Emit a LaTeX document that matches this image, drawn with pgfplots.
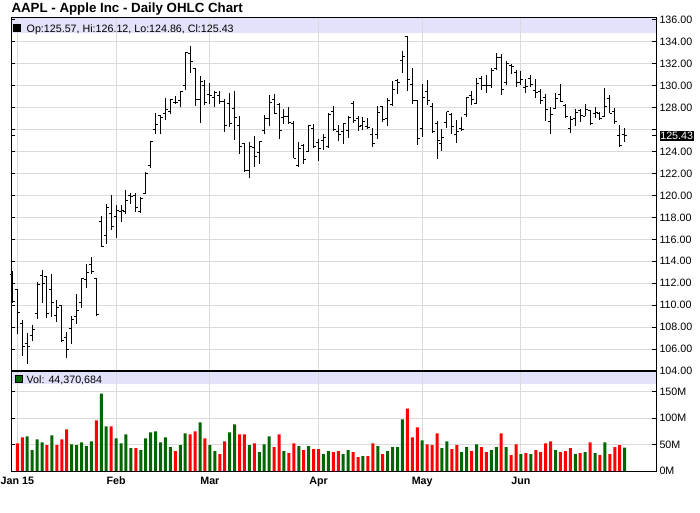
\documentclass[border=0pt]{standalone}
\usepackage{pgfplots}
\pgfplotsset{compat=1.18}
\usepackage{pgfplotstable}
\usepackage{fontspec}
\setmainfont{Liberation Sans}
\definecolor{upgreen}{RGB}{0,102,0}
\definecolor{dnred}{RGB}{255,0,0}
\definecolor{bandcol}{RGB}{226,226,250}
\definecolor{gridgray}{RGB}{218,218,218}
\setlength{\fboxsep}{0.8pt}
\pgfdeclareplotmark{otick}{\pgfpathmoveto{\pgfqpoint{-2.5pt}{0pt}}\pgfpathlineto{\pgfqpoint{0.3pt}{0pt}}\pgfusepathqstroke}
\pgfdeclareplotmark{ctick}{\pgfpathmoveto{\pgfqpoint{-0.3pt}{0pt}}\pgfpathlineto{\pgfqpoint{2.5pt}{0pt}}\pgfusepathqstroke}
\newcommand{\smallfont}{\fontsize{10.7}{12}\selectfont}

\pgfplotstableread{
i o h l c
0 112.82 113.13 110.21 110.38
1 111.39 111.44 107.35 109.33
2 108.29 108.65 105.41 106.25
3 106.54 107.43 104.63 106.26
4 107.20 108.20 106.70 107.75
5 109.23 112.15 108.70 111.89
6 112.67 113.25 110.21 112.01
7 112.60 112.63 108.80 109.25
8 111.43 112.80 108.91 110.22
9 109.04 110.49 108.50 109.80
10 110.00 110.06 106.66 106.82
11 107.03 107.58 105.20 105.99
12 107.84 108.97 106.50 108.72
13 108.95 111.06 108.27 109.55
14 110.26 112.47 109.72 112.40
15 112.30 113.75 111.53 112.98
16 113.74 114.36 112.80 113.10
17 112.42 112.48 109.03 109.14
18 117.63 118.12 115.31 115.31
19 116.32 119.19 115.56 118.90
20 118.40 120.00 116.85 117.16
21 118.05 119.17 116.08 118.63
22 118.50 119.09 117.61 118.65
23 118.50 120.51 118.31 119.56
24 120.02 120.23 119.25 119.94
25 120.02 120.25 118.45 118.93
26 118.55 119.84 118.43 119.72
27 120.17 122.15 120.16 122.02
28 122.77 124.92 122.50 124.88
29 126.06 127.48 125.57 126.46
30 127.28 127.28 125.65 127.08
31 127.49 128.88 126.92 127.83
32 127.63 128.78 127.45 128.72
33 128.48 129.03 128.33 128.45
34 128.62 129.50 128.05 129.50
35 130.02 133.00 129.66 133.00
36 132.94 133.60 131.17 132.17
37 131.56 131.60 128.15 128.79
38 128.79 130.87 126.61 130.42
39 130.00 130.57 128.24 128.46
40 129.25 130.28 128.30 129.09
41 128.96 129.52 128.09 129.36
42 129.10 129.56 128.32 128.54
43 128.58 128.75 125.76 126.41
44 128.40 129.37 126.26 126.60
45 127.96 129.57 125.06 127.14
46 126.41 127.22 123.80 124.51
47 124.75 124.77 122.11 122.24
48 122.31 124.90 121.63 124.45
49 124.40 125.40 122.58 123.59
50 123.88 124.95 122.87 124.95
51 125.90 127.32 125.65 127.04
52 127.00 129.16 126.37 128.47
53 128.75 129.25 127.40 127.50
54 128.25 128.40 125.16 125.90
55 127.12 127.85 126.52 127.21
56 127.23 128.04 126.56 126.69
57 126.54 126.82 123.38 123.38
58 122.76 124.88 122.60 124.24
59 124.57 124.70 122.91 123.25
60 124.05 126.40 124.00 126.37
61 126.09 126.49 124.36 124.43
62 124.82 125.12 123.10 124.25
63 125.03 125.56 124.19 125.32
64 124.47 127.51 124.33 127.35
65 127.64 128.12 125.98 126.01
66 125.85 126.40 124.97 125.60
67 125.85 126.58 124.66 126.56
68 125.95 127.21 125.26 127.10
69 128.37 128.57 126.61 126.85
70 127.00 127.29 125.91 126.30
71 126.41 127.13 126.01 126.78
72 126.28 127.10 126.11 126.17
73 125.55 126.14 124.46 124.75
74 125.57 128.12 125.17 127.60
75 128.10 128.20 126.67 126.91
76 126.99 128.87 126.32 128.62
77 128.30 130.42 128.14 129.67
78 130.49 130.63 129.23 130.28
79 132.31 133.13 131.15 132.65
80 134.46 134.54 129.57 130.56
81 130.16 131.59 128.30 128.64
82 128.64 128.64 124.58 125.15
83 126.10 130.13 125.30 128.95
84 129.50 130.57 128.26 128.70
85 128.15 128.45 125.78 125.80
86 126.56 126.75 123.36 125.01
87 124.77 126.08 124.02 125.26
88 126.68 127.62 126.11 127.62
89 127.39 127.56 125.63 126.32
90 125.60 126.88 124.82 125.87
91 126.15 127.19 125.87 126.01
92 127.41 128.95 127.16 128.95
93 129.07 129.49 128.21 128.77
94 128.38 130.72 128.36 130.19
95 130.69 130.88 129.64 130.07
96 130.00 130.98 129.34 130.06
97 130.07 131.63 129.83 131.39
98 131.60 132.97 131.40 132.54
99 132.60 132.91 129.12 129.62
100 130.34 132.26 130.05 132.04
101 131.86 131.95 131.10 131.78
102 131.23 131.45 129.90 130.28
103 130.28 131.39 130.05 130.54
104 129.86 130.66 129.32 129.96
105 130.66 130.94 129.90 130.12
106 129.58 130.58 128.91 129.36
107 129.50 129.69 128.36 128.65
108 128.90 129.21 126.83 127.80
109 126.70 128.08 125.62 127.42
110 127.92 129.34 127.85 128.88
111 129.18 130.18 128.48 128.59
112 128.19 128.33 127.11 127.17
113 126.10 127.24 125.71 126.92
114 127.03 127.85 126.37 127.60
115 127.72 127.88 126.74 127.30
116 127.23 128.31 127.22 127.88
117 127.71 127.82 126.40 126.60
118 127.49 128.06 127.08 127.61
119 127.48 127.61 126.88 127.03
120 127.21 129.80 127.12 128.11
121 128.86 129.20 127.50 127.50
122 127.67 127.99 126.51 126.75
123 125.46 126.47 124.48 124.53
124 125.57 126.12 124.86 125.43
}\ohlc

\pgfplotstableread{
i v u
1 52.5 0
2 63.75 0
3 65.6 1
4 39.4 1
5 60 1
6 54.4 1
7 48.75 0
8 67.5 1
9 48.75 0
10 60 0
11 78.75 0
12 50.6 1
13 48.75 1
14 54.4 1
15 46.9 1
16 56.25 1
17 95.6 0
18 146.25 1
19 84.4 1
20 84.4 0
21 61.9 1
22 52.5 1
23 69.4 1
24 43.1 1
25 43.1 0
26 39.4 1
27 61.9 1
28 73.1 1
29 75 1
30 54.4 1
31 63.75 1
32 45 1
33 37.5 0
34 48.75 1
35 71.25 1
36 69.4 0
37 75 0
38 91.9 1
39 61.9 0
40 48.75 1
41 37.5 1
42 31.9 0
43 56.25 0
44 73.1 1
45 88.1 1
46 69.4 0
47 69.4 0
48 48.75 1
49 52.5 0
50 35.6 1
51 50.6 1
52 65.6 1
53 45 0
54 69.4 0
55 37.5 1
56 33.75 0
57 52.5 0
58 46.9 1
59 39.4 0
60 46.9 1
61 41.25 0
62 41.25 0
63 31.9 1
64 37.5 1
65 35.6 0
66 37.5 0
67 31.9 1
68 39.4 1
69 35.6 0
70 26.25 0
71 28.1 1
72 28.1 0
73 52.5 0
74 46.9 1
75 31.9 0
76 37.5 1
77 45 1
78 45 1
79 97.5 1
80 118.1 0
81 63.75 0
82 82.5 0
83 58.1 1
84 50.6 0
85 48.75 0
86 71.25 0
87 43.1 1
88 56.25 1
89 41.25 0
90 48.75 0
91 35.6 1
92 45 1
93 37.5 0
94 50.6 1
95 45 0
96 35.6 0
97 39.4 1
98 45 1
99 71.25 0
100 45 1
101 30 0
102 50.6 0
103 31.9 1
104 33.75 0
105 31.9 1
106 39.4 0
107 35.6 0
108 52.5 0
109 56.25 0
110 39.4 1
111 35.6 0
112 37.5 0
113 43.1 0
114 31.9 1
115 33.75 0
116 35.6 1
117 54.4 0
118 33.75 1
119 30 0
120 54.4 1
121 31.9 0
122 45 0
123 48.75 0
124 44.37 1
}\vol

\begin{document}
\begin{tikzpicture}
\useasboundingbox (0pt,0pt) rectangle (700pt,-512pt);
% legend bands
\fill[bandcol] (11.5pt,-17.5pt) rectangle (655.5pt,-33.3pt);
\fill[bandcol] (11.5pt,-372pt) rectangle (655.5pt,-384.3pt);

% price panel
\begin{axis}[
  at={(11pt,-371pt)}, anchor=south west,
  width=645pt, height=354pt, scale only axis,
  xmin=-0.28, xmax=130.35, ymin=104, ymax=136.27,
  axis line style={black, line width=1pt},
  xtick={1,21,40,62,83,103}, xticklabels={},
  xtick style={draw=none},
  ytick={104,106,108,110,112,114,116,118,120,122,124,126,128,130,132,134},
  yticklabels={104.00,106.00,108.00,110.00,112.00,114.00,116.00,118.00,120.00,122.00,124.00,{},128.00,130.00,132.00,134.00},
  extra y ticks={136,125.43},
  extra y tick labels={136.00,{\colorbox{black}{\textcolor{white}{125.43}}}},
  extra y tick style={grid=none},
  yticklabel pos=right,
  yticklabel style={font=\smallfont, anchor=west},
  tick align=inside, major tick length=4pt,
  ytick style={black, line width=1pt},
  xmajorgrids, ymajorgrids,
  grid style={gridgray, line width=1pt},
]
\addplot[draw=none, mark=none,
  error bars/.cd, y dir=both, y explicit, error mark=none,
  error bar style={draw=black, line width=1pt, solid}]
  table[x=i, y=c, y error plus expr={\thisrow{h}-\thisrow{c}}, y error minus expr={\thisrow{c}-\thisrow{l}}] {\ohlc};
\addplot[only marks, mark=otick, mark options={draw=black, line width=1pt}]
  table[x=i, y=o] {\ohlc};
\addplot[only marks, mark=ctick, mark options={draw=black, line width=1pt}]
  table[x=i, y=c] {\ohlc};
\end{axis}

% volume panel
\begin{axis}[
  at={(11pt,-471pt)}, anchor=south west,
  width=645pt, height=100pt, scale only axis,
  xmin=-0.28, xmax=130.35, ymin=0, ymax=189.2,
  axis line style={black, line width=1pt},
  xtick={1,21,40,62,83,103},
  xticklabels={Jan 15,Feb,Mar,Apr,May,Jun},
  xticklabel style={font=\smallfont\bfseries, yshift=-2.3pt},
  xtick style={draw=none},
  ytick={0,50,100,150},
  yticklabels={0M,50M,100M,150M},
  yticklabel pos=right,
  yticklabel style={font=\smallfont, anchor=west},
  tick align=inside, major tick length=4pt,
  ytick style={black, line width=1pt},
  xmajorgrids, ymajorgrids,
  grid style={gridgray, line width=1pt},
]
\addplot[ybar, bar width=3pt, bar shift=0pt, fill=upgreen, draw=none,
  restrict expr to domain={\thisrow{u}}{1:1}]
  table[x=i, y=v] {\vol};
\addplot[ybar, bar width=3pt, bar shift=0pt, fill=dnred, draw=none,
  restrict expr to domain={\thisrow{u}}{0:0}]
  table[x=i, y=v] {\vol};
\end{axis}

% separator line
\draw[black, line width=2pt] (11pt,-371pt) -- (656pt,-371pt);

% title and legends
\node[anchor=base west, inner sep=0pt, font=\fontsize{13.3}{16}\selectfont\bfseries] at (11.3pt,-12.4pt) {AAPL - Apple Inc - Daily OHLC Chart};
\fill[black] (13pt,-24.3pt) rectangle (21.3pt,-32.2pt);
\node[anchor=base west, inner sep=0pt, font=\smallfont] at (26.5pt,-32.3pt) {Op:125.57, Hi:126.12, Lo:124.86, Cl:125.43};
\filldraw[fill=upgreen, draw=black, line width=0.7pt] (15.3pt,-375.3pt) rectangle (22.5pt,-382.5pt);
\node[anchor=base west, inner sep=0pt, font=\smallfont] at (26.5pt,-383pt) {Vol: 44,370,684};
\end{tikzpicture}
\end{document}
